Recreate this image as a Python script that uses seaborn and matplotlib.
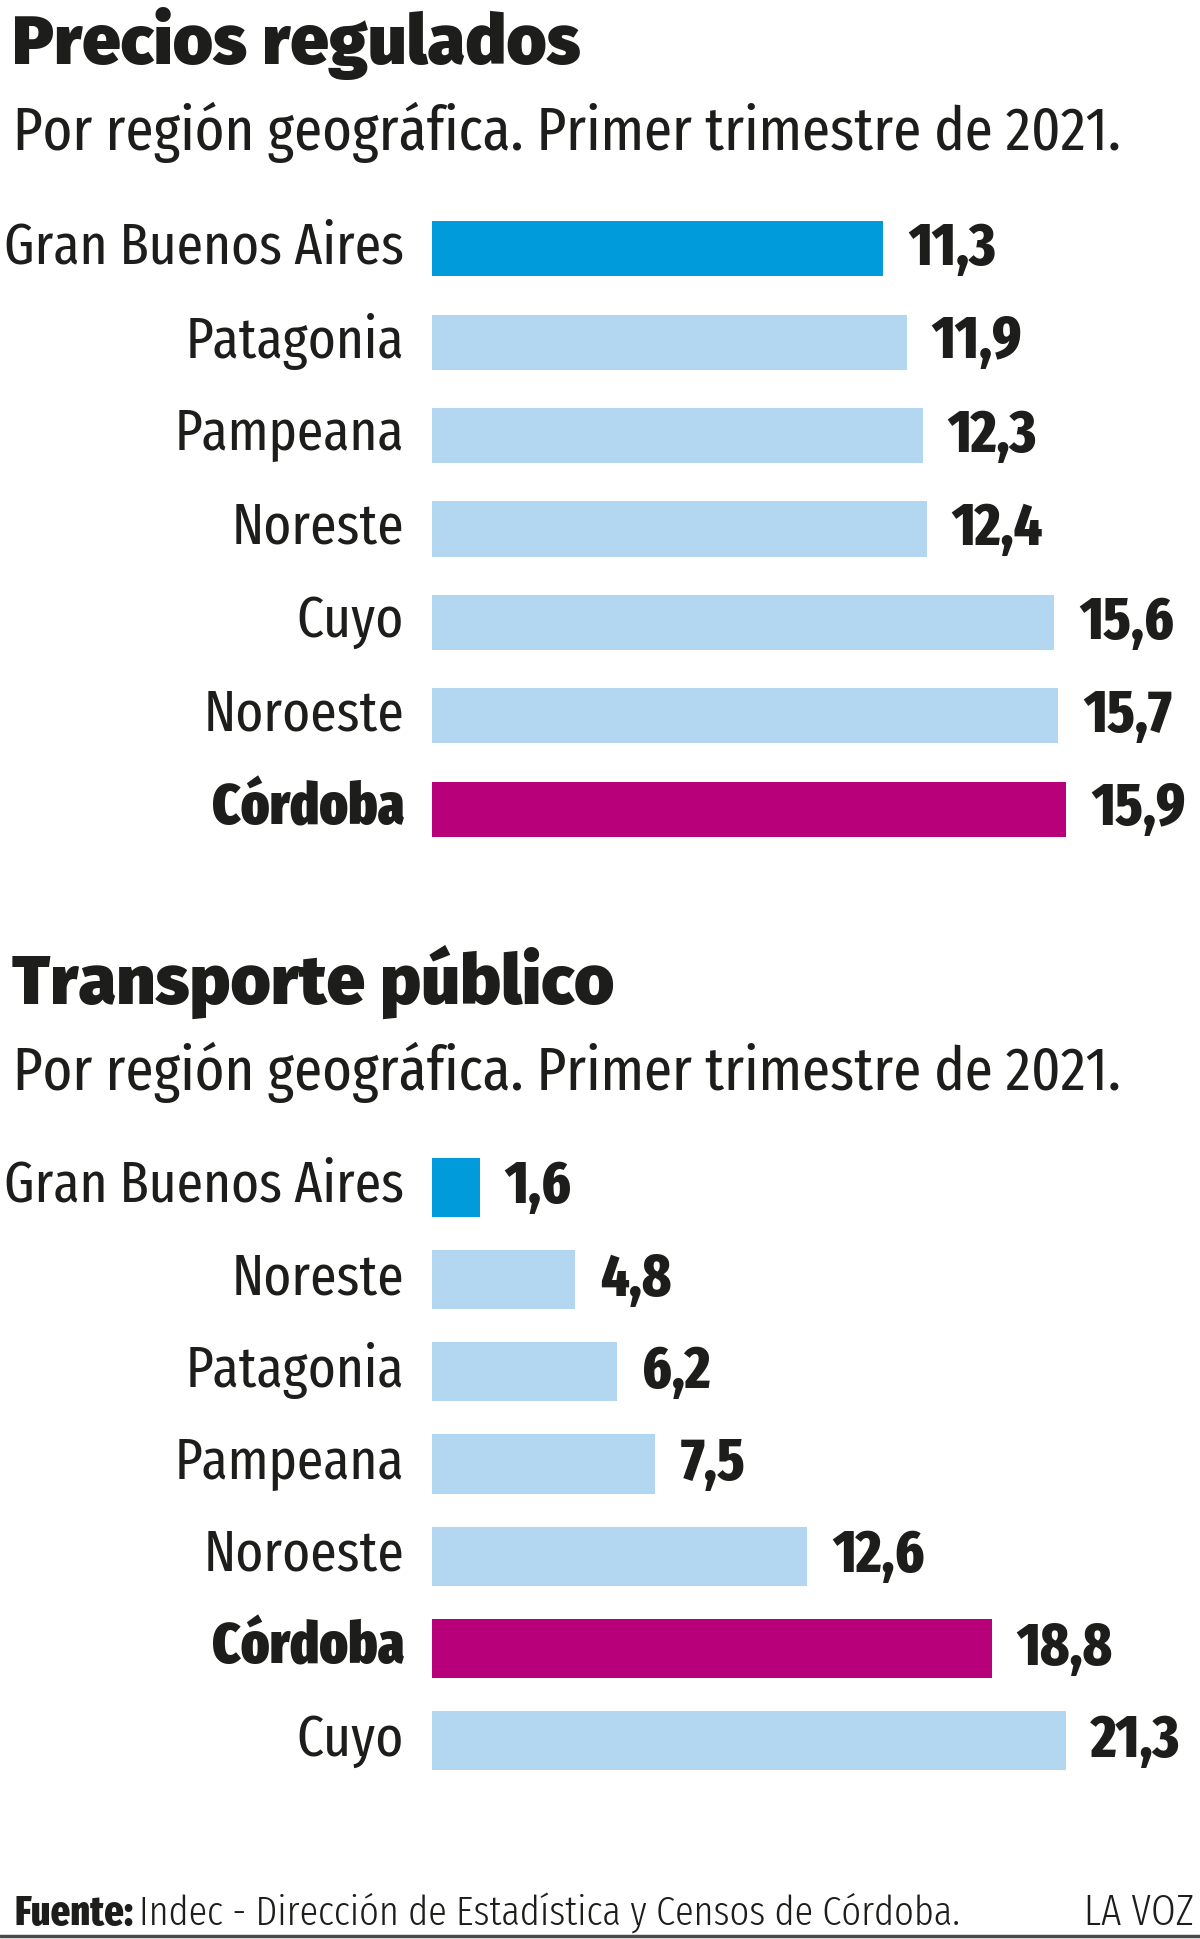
import matplotlib
matplotlib.use("Agg")
import matplotlib.pyplot as plt
import matplotlib.transforms as mtransforms
from matplotlib.lines import Line2D
import seaborn as sns
import pandas as pd

# Datos
precios_regiones = ["Gran Buenos Aires", "Patagonia", "Pampeana", "Noreste",
                    "Cuyo", "Noroeste", "Córdoba"]
precios_valores = [11.3, 11.9, 12.3, 12.4, 15.6, 15.7, 15.9]

transporte_regiones = ["Gran Buenos Aires", "Noreste", "Patagonia", "Pampeana",
                       "Noroeste", "Córdoba", "Cuyo"]
transporte_valores = [1.6, 4.8, 6.2, 7.5, 12.6, 18.8, 21.3]

titulos = ["Precios regulados", "Transporte público"]
subtitulo = "Por región geográfica. Primer trimestre de 2021."
fuente_label = "Fuente:"
fuente_texto = "Indec - Dirección de Estadística y Censos de Córdoba."
marca = "LA VOZ"

AZUL = "#009bdb"
CELESTE = "#b4d7f1"
MAGENTA = "#b8007b"
TEXTO = "#1d1d1b"

sns.set_theme(style="white")
# fuente condensada; si falta, DejaVu Sans Condensed
plt.rcParams["font.family"] = ["Fira Sans Extra Condensed", "DejaVu Sans"]
plt.rcParams["font.stretch"] = "condensed"
TITULO_FAM = ["Fira Sans", "DejaVu Sans"]

W, H = 1200, 1939
fig = plt.figure(figsize=(W / 100, H / 100), dpi=100)
fig.patch.set_facecolor("white")


def colores(regiones):
    pal = {}
    for r in regiones:
        if r == "Gran Buenos Aires":
            pal[r] = AZUL
        elif r == "Córdoba":
            pal[r] = MAGENTA
        else:
            pal[r] = CELESTE
    return pal


def ejes_px(left, top, right, bottom):
    return fig.add_axes([left / W, 1 - bottom / H, (right - left) / W, (bottom - top) / H])


def panel(ax, regiones, valores, xmax, ancho):
    df = pd.DataFrame({"region": regiones, "valor": valores})
    sns.barplot(data=df, x="valor", y="region", hue="region", palette=colores(regiones),
                legend=False, width=ancho, linewidth=0, saturation=1, orient="h", ax=ax)
    ax.set_xlim(0, xmax)
    ax.set_xticks([])
    ax.set_xlabel("")
    ax.set_ylabel("")
    sns.despine(ax=ax, left=True, bottom=True)
    ax.tick_params(axis="y", length=0, pad=20)
    subir = mtransforms.ScaledTranslation(0, 5 / 72, fig.dpi_scale_trans)
    for lbl in ax.get_yticklabels():
        lbl.set_fontsize(41.8)
        lbl.set_color(TEXTO)
        lbl.set_transform(lbl.get_transform() + subir)
        if lbl.get_text() == "Córdoba":
            lbl.set_fontweight(900)
    for c in ax.containers:
        ax.bar_label(c, fmt=lambda v: f"{v:.1f}".replace(".", ","), padding=18,
                     fontsize=43, fontweight=800, color=TEXTO)


# Panel 1: precios regulados
ax1 = ejes_px(432, 202, 1200, 856)
panel(ax1, precios_regiones, precios_valores, 19.25, 0.59)

# Panel 2: transporte público
ax2 = ejes_px(432, 1141, 1200, 1787)
panel(ax2, transporte_regiones, transporte_valores, 25.8, 0.64)

# Títulos y subtítulos
fig.text(12 / W, 1 - 64 / H, titulos[0], fontsize=49.5, fontweight=900, family=TITULO_FAM,
         stretch="normal", color=TEXTO, va="baseline")
fig.text(13 / W, 1 - 150 / H, subtitulo, fontsize=44.5, color=TEXTO, va="baseline")
fig.text(12 / W, 1 - 1004 / H, titulos[1], fontsize=49.5, fontweight=900, family=TITULO_FAM,
         stretch="normal", color=TEXTO, va="baseline")
fig.text(13 / W, 1 - 1090 / H, subtitulo, fontsize=44.5, color=TEXTO, va="baseline")

# Fuente
t_fuente = fig.text(14 / W, 1 - 1925 / H, fuente_label, fontsize=30, fontweight=800,
                    color=TEXTO, va="baseline")
fig.canvas.draw()
bb = t_fuente.get_window_extent()
fig.text((bb.x1 + 6) / W, 1 - 1925 / H, fuente_texto, fontsize=30, fontweight=300,
         color=TEXTO, va="baseline")
fig.text(1194 / W, 1 - 1925 / H, marca, fontsize=31, fontweight=300, color=TEXTO,
         va="baseline", ha="right")

fig.add_artist(Line2D([0, 1], [1 - 1936 / H, 1 - 1936 / H], transform=fig.transFigure,
                      color="#4a4a4a", linewidth=2.5))

fig.savefig("out.png", dpi=100, facecolor="white")
